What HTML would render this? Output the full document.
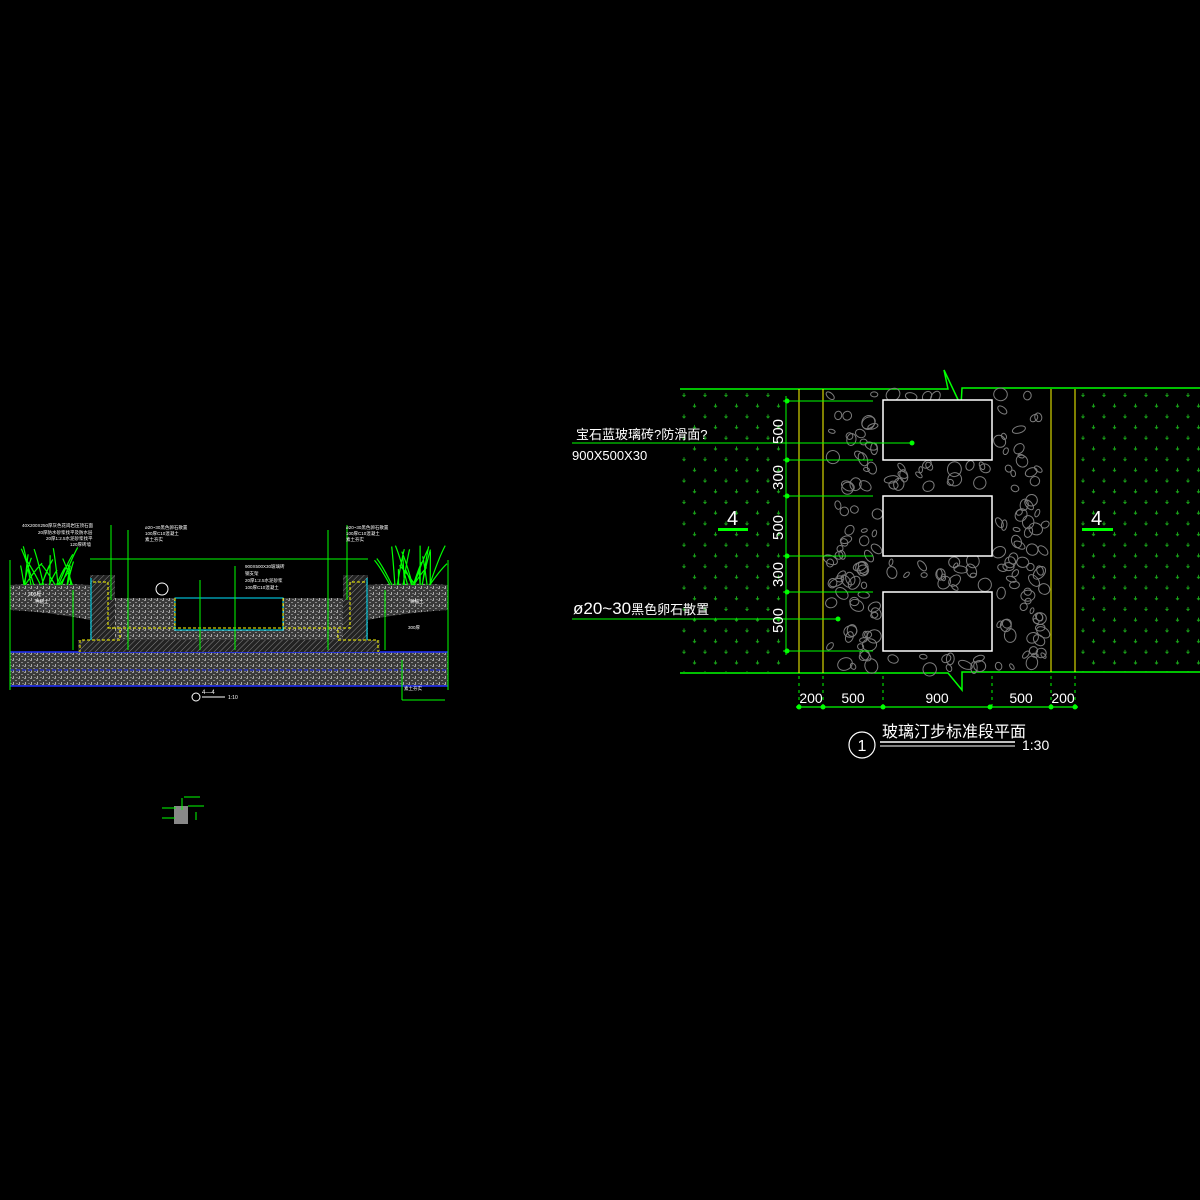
<!DOCTYPE html>
<html><head><meta charset="utf-8"><style>
html,body{margin:0;padding:0;background:#000;}
svg{display:block}
text{font-family:"Liberation Sans","Noto Sans CJK SC",sans-serif;}
</style></head><body>
<svg id="s" width="1200" height="1200" viewBox="0 0 1200 1200" xmlns="http://www.w3.org/2000/svg">
<defs>
<pattern id="grass" x="680" y="392" width="21" height="21.4" patternUnits="userSpaceOnUse">
<g stroke="#18a018" stroke-width="1" fill="none">
<path d="M4 1v3.5M2.5 3l1.5 1.5 1.5-1.5"/><path d="M14.5 11.7v3.5M13 13.7l1.5 1.5 1.5-1.5"/>
</g></pattern>
<pattern id="noise" width="6" height="6" patternUnits="userSpaceOnUse">
<rect width="6" height="6" fill="#3a3a3a"/><rect x="0" y="0" width="2" height="1" fill="#999"/><rect x="3" y="2" width="2" height="1" fill="#888"/><rect x="1" y="4" width="1" height="2" fill="#aaa"/><rect x="4" y="5" width="2" height="1" fill="#777"/>
</pattern>
<pattern id="hatch" width="4" height="4" patternUnits="userSpaceOnUse" patternTransform="rotate(45)">
<rect width="4" height="4" fill="#222"/><line x1="0" y1="0" x2="0" y2="4" stroke="#888" stroke-width="1"/></pattern>
</defs>

<rect x="680" y="390" width="106" height="282" fill="url(#grass)"/>
<rect x="1076" y="390" width="124" height="282" fill="url(#grass)"/>
<g stroke="#00ff00" stroke-width="1.5" fill="none">
<path d="M680 389H948L944 370L961 406L962 388H1200"/>
<path d="M680 673H948L962 690L962 672H1200"/>
</g>
<g stroke="#ffff00" stroke-width="1">
<line x1="799" y1="389" x2="799" y2="673"/><line x1="823" y1="389" x2="823" y2="673"/>
<line x1="1051" y1="389" x2="1051" y2="672"/><line x1="1075" y1="389" x2="1075" y2="672"/>
</g>
<g id="gravel" stroke="#7c7c7c" stroke-width="1" fill="none"></g>
<g stroke="#ffffff" stroke-width="1.5" fill="#000">
<rect x="883" y="400" width="109" height="60"/>
<rect x="883" y="496" width="109" height="60"/>
<rect x="883" y="592" width="109" height="59"/>
</g>
<g stroke="#00ff00" stroke-width="1">
<line x1="786" y1="396" x2="786" y2="655"/>
<line x1="783" y1="401" x2="873" y2="401"/><line x1="783" y1="460" x2="873" y2="460"/>
<line x1="783" y1="496" x2="873" y2="496"/><line x1="783" y1="556" x2="873" y2="556"/>
<line x1="783" y1="592" x2="873" y2="592"/><line x1="783" y1="651" x2="873" y2="651"/>
<line x1="572" y1="443" x2="912" y2="443"/><line x1="572" y1="619" x2="838" y2="619"/>
</g>
<g fill="#00ff00"><circle cx="787" cy="401" r="2.5"/><circle cx="787" cy="460" r="2.5"/><circle cx="787" cy="496" r="2.5"/><circle cx="787" cy="556" r="2.5"/><circle cx="787" cy="592" r="2.5"/><circle cx="787" cy="651" r="2.5"/><circle cx="912" cy="443" r="2.5"/><circle cx="838" cy="619" r="2.5"/></g>
<g fill="#fff" font-size="15">
<text transform="translate(783,444) rotate(-90)">500</text>
<text transform="translate(783,490) rotate(-90)">300</text>
<text transform="translate(783,540) rotate(-90)">500</text>
<text transform="translate(783,587) rotate(-90)">300</text>
<text transform="translate(783,633) rotate(-90)">500</text>
</g>
<text x="576" y="439" fill="#fff" font-size="13">宝石蓝玻璃砖?防滑面?</text>
<text x="572" y="460" fill="#fff" font-size="13">900X500X30</text>
<text x="573" y="614" fill="#fff" font-size="17">ø20~30<tspan font-size="13">黑色卵石散置</tspan></text>
<text x="727" y="525" fill="#fff" font-size="20">4</text>
<rect x="718" y="528" width="30" height="3" fill="#00ff00"/>
<text x="1091" y="525" fill="#fff" font-size="20">4</text>
<rect x="1082" y="528" width="31" height="3" fill="#00ff00"/>
<g stroke="#00ff00" stroke-width="1" stroke-dasharray="3,4">
<line x1="799" y1="676" x2="799" y2="707"/><line x1="823" y1="676" x2="823" y2="707"/><line x1="883" y1="676" x2="883" y2="707"/><line x1="992" y1="676" x2="992" y2="707"/><line x1="1051" y1="676" x2="1051" y2="707"/><line x1="1075" y1="676" x2="1075" y2="707"/>
</g>
<line x1="796" y1="707" x2="1078" y2="707" stroke="#00ff00" stroke-width="1.2"/>
<g fill="#00ff00"><circle cx="799" cy="707" r="2.5"/><circle cx="823" cy="707" r="2.5"/><circle cx="883" cy="707" r="2.5"/><circle cx="990" cy="707" r="2.5"/><circle cx="1051" cy="707" r="2.5"/><circle cx="1075" cy="707" r="2.5"/></g>
<g fill="#fff" font-size="14" text-anchor="middle">
<text x="811" y="703">200</text><text x="853" y="703">500</text><text x="937" y="703">900</text><text x="1021" y="703">500</text><text x="1063" y="703">200</text>
</g>
<circle cx="862" cy="745" r="13" stroke="#fff" fill="none" stroke-width="1.2"/>
<text x="862" y="751" fill="#fff" font-size="16" text-anchor="middle">1</text>
<text x="882" y="737" fill="#fff" font-size="16">玻璃汀步标准段平面</text>
<line x1="880" y1="742" x2="1015" y2="742" stroke="#fff" stroke-width="1.5"/>
<line x1="880" y1="746" x2="1015" y2="746" stroke="#fff" stroke-width="1"/>
<text x="1022" y="750" fill="#fff" font-size="14">1:30</text>

<rect x="10" y="652" width="438" height="34" fill="url(#noise)"/>
<line x1="10" y1="652" x2="448" y2="652" stroke="#2030ff" stroke-width="1.5"/>
<line x1="10" y1="670" x2="448" y2="670" stroke="#2030ff" stroke-width="1" stroke-dasharray="4,2"/>
<line x1="10" y1="686" x2="448" y2="686" stroke="#2030ff" stroke-width="1.5"/>
<path d="M10 585Q50 582 90 585V620Q50 612 10 610Z" fill="url(#noise)"/>
<path d="M367 585Q410 582 448 585V610Q410 612 367 620Z" fill="url(#noise)"/>
<rect x="110" y="598" width="238" height="48" fill="url(#noise)"/>
<rect x="90" y="575" width="25" height="75" fill="url(#hatch)"/>
<rect x="343" y="575" width="25" height="75" fill="url(#hatch)"/>
<rect x="78" y="640" width="302" height="12" fill="url(#hatch)"/>
<rect x="175" y="598" width="108" height="32" fill="#000" stroke="#00e5ff"/>
<g stroke="#ffff00" stroke-width="1" fill="none" stroke-dasharray="3,2">
<path d="M93 582H108V628H120V640H80V652"/><path d="M365 582H350V628H338V640H378V652"/>
<path d="M175 598V626M283 598V626M108 628H350"/></g>
<g stroke="#00e5ff" fill="none"><path d="M91 578V640M367 578V640"/></g>
<g stroke="#00ff00" stroke-width="1.2" fill="none" id="plants"></g>
<g stroke="#00ff00" stroke-width="1" fill="none">
<line x1="90" y1="559" x2="368" y2="559"/>
<line x1="111" y1="525" x2="111" y2="600"/><line x1="128" y1="530" x2="128" y2="650"/>
<line x1="328" y1="530" x2="328" y2="650"/><line x1="347" y1="525" x2="347" y2="600"/>
<line x1="73" y1="590" x2="73" y2="650"/><line x1="385" y1="590" x2="385" y2="650"/>
<line x1="235" y1="566" x2="235" y2="650"/><line x1="200" y1="580" x2="200" y2="650"/>
<line x1="10" y1="560" x2="10" y2="690"/><line x1="448" y1="560" x2="448" y2="690"/>
<line x1="402" y1="660" x2="402" y2="700"/><line x1="402" y1="700" x2="445" y2="700"/>
</g>
<g fill="#fff" font-size="4.5">
<text x="22" y="527">40X200X250厚灰色花岗岩压顶石面</text>
<text x="38" y="534">20厚防水砂浆找平及防水层</text>
<text x="46" y="540">20厚1:2.5水泥砂浆找平</text>
<text x="70" y="546">120厚砖墙</text>
<text x="145" y="529">ø20~30黑色卵石散置</text><text x="145" y="535">100厚C10混凝土</text><text x="145" y="541">素土夯实</text>
<text x="346" y="529">ø20~30黑色卵石散置</text><text x="346" y="535">100厚C10混凝土</text><text x="346" y="541">素土夯实</text>
<text x="245" y="568">900X500X30玻璃砖</text><text x="245" y="575">钢支架</text><text x="245" y="582">20厚1:2.5水泥砂浆</text><text x="245" y="589">100厚C10混凝土</text>
<text x="35" y="603">种植土</text><text x="410" y="603">种植土</text>
<text x="28" y="596" font-size="5">200厚</text><text x="408" y="629">300厚</text>
<text x="404" y="690">素土夯实</text>
</g>
<circle cx="162" cy="589" r="6" stroke="#fff" fill="none"/>
<circle cx="196" cy="697" r="4" stroke="#fff" fill="none"/>
<text x="202" y="694" fill="#fff" font-size="6">4—4</text>
<line x1="202" y1="697" x2="225" y2="697" stroke="#fff"/>
<text x="228" y="699" fill="#fff" font-size="5">1:10</text>
<rect x="174" y="806" width="14" height="18" fill="#888"/>
<g stroke="#00ff00" fill="none"><path d="M162 808H176M162 818H175M182 798V810M184 797H200M188 806H204M196 812V820"/></g>
</svg>
<script>
(function(){
var g=document.getElementById('gravel'),ns='http://www.w3.org/2000/svg',seed=7;
function r(){seed=(seed*16807)%2147483647;return seed/2147483647;}
function fill(x0,x1,y0,y1,n){for(var i=0;i<n;i++){var x=x0+r()*(x1-x0),y=y0+r()*(y1-y0);
var e=document.createElementNS(ns,'ellipse');var a=3+r()*4.5;
e.setAttribute('cx',x.toFixed(1));e.setAttribute('cy',y.toFixed(1));e.setAttribute('rx',a.toFixed(1));e.setAttribute('ry',(a*(0.5+r()*0.5)).toFixed(1));
e.setAttribute('transform','rotate('+(r()*180|0)+' '+x.toFixed(1)+' '+y.toFixed(1)+')');g.appendChild(e);}}
fill(830,878,394,668,75);
fill(998,1046,394,668,75);
fill(888,988,464,492,18);fill(888,988,560,588,18);fill(888,988,655,670,10);fill(888,940,392,398,4);
var p=document.getElementById('plants'),d='';
function tuft(cx,base){for(var i=0;i<22;i++){var dx=(r()-0.5)*70,h=15+r()*25;var x=cx+(r()-0.5)*50;
d+='M'+x.toFixed(1)+' '+base+'Q'+(x+dx*0.3).toFixed(1)+' '+(base-h*0.7).toFixed(1)+' '+(x+dx*0.5).toFixed(1)+' '+(base-h).toFixed(1);}}
tuft(48,585);tuft(412,585);
var pa=document.createElementNS(ns,'path');pa.setAttribute('d',d);p.appendChild(pa);
})();
</script>
</body></html>
